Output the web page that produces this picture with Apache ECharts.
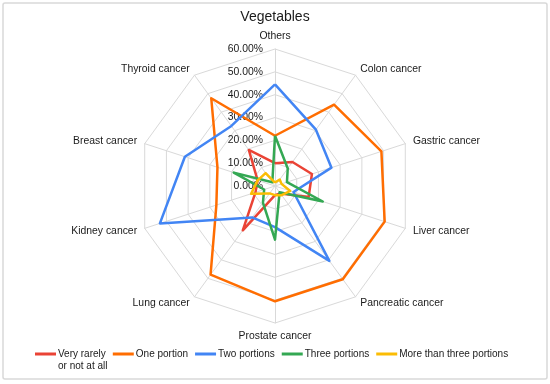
<!DOCTYPE html>
<html>
<head>
<meta charset="utf-8">
<script src="https://cdn.jsdelivr.net/npm/echarts@6/dist/echarts.min.js"></script>
<style>html,body{margin:0;padding:0;background:#fff;}#c{width:550px;height:384px;}</style>
</head>
<body>
<div id="c"></div>
<script>
// Categories in clockwise order starting at the top
const categories = ['Others', 'Colon cancer', 'Gastric cancer', 'Liver cancer', 'Pancreatic cancer',
  'Prostate cancer', 'Lung cancer', 'Kidney cancer', 'Breast cancer', 'Thyroid cancer'];
const seriesNames = ['Very rarely or not at all', 'One portion', 'Two portions', 'Three portions', 'More than three portions'];
const veryRarely = [10, 13, 17, 15.5, 4, 4, 24, 9, 8, 19.5];
const onePortion = [22, 44, 49, 50.5, 50.5, 50.5, 48, 27, 26.5, 47.5];
const twoPortions = [44.5, 30.5, 26, 8.5, 40.5, 18, 17, 53, 41.5, 32.5];
const threePortions = [22, 9.5, 5.5, 22, 3.4, 23.5, 9, 5, 19, 2];
const moreThanThree = [1.5, 3.5, 3, 7, 5, 4, 4, 11, 8, 7];
const tickLabels = ['0.00%', '10.00%', '20.00%', '30.00%', '40.00%', '50.00%', '60.00%'];
const colors = ['#EA4335', '#FF6D01', '#4285F4', '#34A853', '#FBBC04'];

// ECharts radar goes counter-clockwise; reorder to draw clockwise
const ccw = arr => [arr[0]].concat(arr.slice(1).reverse());
const allData = [veryRarely, onePortion, twoPortions, threePortions, moreThanThree];
const FONT = 'Arial, "Liberation Sans", sans-serif';
const TXT = '#1a1a1a';

const chart = echarts.init(document.getElementById('c'));
chart.setOption({
  animation: false,
  backgroundColor: '#fff',
  color: colors,
  title: {
    text: 'Vegetables', left: 'center', top: 5,
    textStyle: {fontSize: 14, fontWeight: 'normal', color: TXT, fontFamily: FONT}
  },
  graphic: [
    {type: 'rect', shape: {x: 3, y: 3, width: 544, height: 376, r: 2}, style: {fill: 'none', stroke: '#d9d9d9', lineWidth: 1.5}, silent: true},
    {type: 'text', left: 58, top: 361, style: {text: 'or not at all', fontSize: 10, fontFamily: FONT, fill: TXT}}
  ],
  legend: {
    data: seriesNames,
    left: 30, top: 344,
    icon: 'rect', itemWidth: 21, itemHeight: 3, itemGap: 7,
    formatter: n => n === seriesNames[0] ? 'Very rarely' : n,
    textStyle: {fontSize: 10, fontFamily: FONT, color: TXT, padding: [0, 0, 0, -3]}
  },
  grid: {left: 275, top: 49, width: 1, height: 137},
  xAxis: {type: 'value', show: false},
  yAxis: {
    type: 'value', min: 0, max: 60, interval: 10,
    axisLine: {show: false}, axisTick: {show: false}, splitLine: {show: false},
    axisLabel: {formatter: (v) => tickLabels[Math.round(v / 10)], margin: 12, fontSize: 10.4, fontFamily: FONT, color: TXT}
  },
  radar: {
    center: [275, 186], radius: 137, startAngle: 90, shape: 'polygon', splitNumber: 6,
    indicator: ccw(categories).map(n => ({name: n, min: 0, max: 60})),
    nameGap: 8,
    axisName: {color: TXT, fontSize: 10.4, fontFamily: FONT},
    splitLine: {lineStyle: {color: '#d9d9d9', width: 1}},
    splitArea: {show: false},
    axisLine: {lineStyle: {color: '#d9d9d9', width: 1}},
    axisTick: {show: false}, axisLabel: {show: false}
  },
  series: allData.map((d, i) => ({
    type: 'radar', name: seriesNames[i], symbol: 'none',
    lineStyle: {width: 2.5, color: colors[i]},
    itemStyle: {color: colors[i]},
    data: [{value: ccw(d), name: seriesNames[i]}]
  }))
});
</script>
</body>
</html>
